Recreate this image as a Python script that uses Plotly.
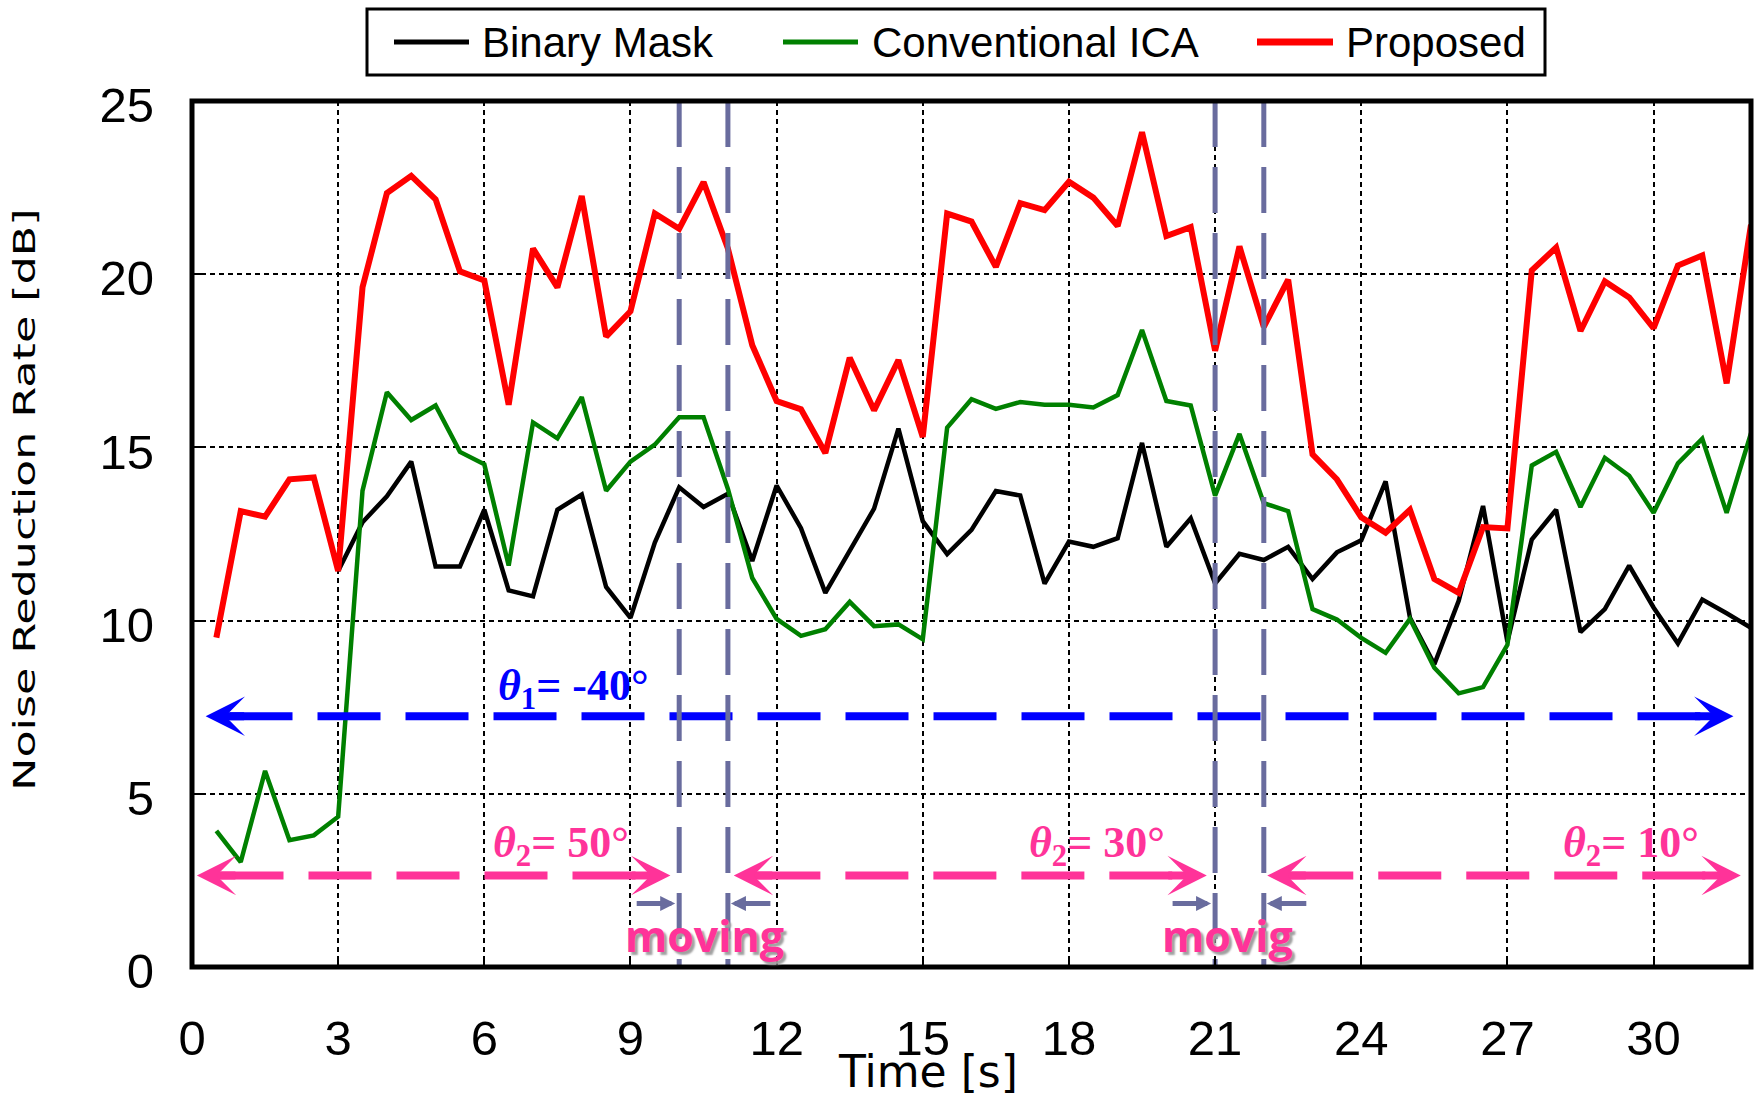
import plotly.graph_objects as go

# ---------------------------------------------------------------- data
time_s = [0.5, 1.0, 1.5, 2.0, 2.5, 3.0, 3.5, 4.0, 4.5, 5.0, 5.5, 6.0, 6.5, 7.0, 7.5, 8.0,
          8.5, 9.0, 9.5, 10.0, 10.5, 11.0, 11.5, 12.0, 12.5, 13.0, 13.5, 14.0, 14.5, 15.0, 15.5, 16.0,
          16.5, 17.0, 17.5, 18.0, 18.5, 19.0, 19.5, 20.0, 20.5, 21.0, 21.5, 22.0, 22.5, 23.0, 23.5, 24.0,
          24.5, 25.0, 25.5, 26.0, 26.5, 27.0, 27.5, 28.0, 28.5, 29.0, 29.5, 30.0, 30.5, 31.0, 31.5, 32.0]

proposed = [9.51, 13.16, 13.00, 14.08, 14.13, 11.43, 19.62, 22.34, 22.84, 22.16, 20.08, 19.82, 16.23, 20.74, 19.62, 22.26,
            18.20, 18.93, 21.75, 21.31, 22.66, 20.74, 17.95, 16.34, 16.10, 14.84, 17.59, 16.07, 17.52, 15.30, 21.75, 21.52,
            20.21, 22.05, 21.85, 22.67, 22.21, 21.39, 24.10, 21.10, 21.36, 17.79, 20.80, 18.48, 19.84, 14.80, 14.08, 12.98,
            12.54, 13.20, 11.20, 10.80, 12.70, 12.66, 20.11, 20.77, 18.36, 19.79, 19.33, 18.44, 20.25, 20.54, 16.85, 21.43]

conventional_ica = [3.93, 3.03, 5.66, 3.66, 3.80, 4.34, 13.75, 16.59, 15.79, 16.21, 14.87, 14.51, 11.59, 15.72, 15.26, 16.45,
                    13.75, 14.59, 15.08, 15.87, 15.87, 13.80, 11.23, 10.05, 9.56, 9.75, 10.54, 9.84, 9.89, 9.46, 15.57, 16.39,
                    16.11, 16.31, 16.23, 16.23, 16.15, 16.51, 18.39, 16.34, 16.21, 13.61, 15.39, 13.39, 13.16, 10.33, 10.03, 9.50,
                    9.07, 10.05, 8.64, 7.90, 8.08, 9.30, 14.48, 14.87, 13.28, 14.70, 14.18, 13.11, 14.54, 15.25, 13.11, 15.41]

# binary mask output starts at 3 s
binary_mask_time = time_s[5:]
binary_mask = [11.43, 12.84, 13.59, 14.59, 11.56, 11.56, 13.20, 10.87, 10.70, 13.20, 13.64,
               10.97, 10.08, 12.25, 13.85, 13.28, 13.66, 11.72, 13.90, 12.67, 10.80, 12.02, 13.23, 15.54, 12.87, 11.92, 12.62,
               13.74, 13.61, 11.07, 12.28, 12.13, 12.38, 15.13, 12.13, 12.95, 11.07, 11.93, 11.75, 12.13, 11.20, 11.97, 12.32,
               14.02, 10.08, 8.74, 10.57, 13.31, 9.39, 12.34, 13.20, 9.67, 10.33, 11.59, 10.38, 9.34, 10.61, 10.21, 9.79]

series_names = ["Binary Mask", "Conventional ICA", "Proposed"]
x_tick_vals = [0, 3, 6, 9, 12, 15, 18, 21, 24, 27, 30]
y_tick_vals = [0, 5, 10, 15, 20, 25]
x_title = "Time [s]"
y_title = "Noise Reduction Rate [dB]"

# source directions and the moving intervals
theta1_deg = -40
theta1_level = 7.24
theta1_tips = (0.28, 31.64)
theta1_body = (0.77, 30.96)

theta2_deg = [50, 30, 10]
theta2_level = 2.64
theta2_tips = [(0.10, 9.82), (11.12, 20.83), (22.07, 31.79)]
theta2_body = [(0.585, 9.115), (11.605, 20.12), (22.543, 31.08)]
theta2_label_x = [6.13, 17.14, 28.10]

moving_intervals = [(10, 11), (21, 22)]
moving_labels = ["moving", "movig"]
moving_label_x = [10.52, 21.25]
moving_arrow_level = 1.83

# ---------------------------------------------------------------- style
W, H = 1754, 1097
PLOT_L, PLOT_R, PLOT_T, PLOT_B = 192, 1751, 101, 967
X_MAX, Y_MAX = 32, 25

line_colors = ["#000000", "#008000", "#ff0000"]
line_widths = [4.5, 4.5, 6]
legend_widths = [5, 5, 7]
BLUE = "#0000ff"
PINK = "#ff3399"
SLATE = "#696c9e"
SANS = "Liberation Sans, Arial, sans-serif"
SERIF = "Liberation Serif, Times New Roman, serif"
WIDE = "DejaVu Sans, Verdana, sans-serif"


def paper_x(px):
    return (px - PLOT_L) / (PLOT_R - PLOT_L)


def paper_y(py):
    return (PLOT_B - py) / (PLOT_B - PLOT_T)


fig = go.Figure()

# measured curves
for name, xs, ys, col, wd in zip(series_names,
                                 [binary_mask_time, time_s, time_s],
                                 [binary_mask, conventional_ica, proposed],
                                 line_colors, line_widths):
    fig.add_trace(go.Scatter(x=xs, y=ys, mode="lines", name=name,
                             line=dict(color=col, width=wd), showlegend=False))

DASH = "63px,25px"

# dashed bodies of the direction arrows
fig.add_trace(go.Scatter(x=list(theta1_body), y=[theta1_level] * 2, mode="lines",
                         line=dict(color=BLUE, width=8, dash=DASH), showlegend=False,
                         hoverinfo="skip"))
for x0, x1 in theta2_body:
    fig.add_trace(go.Scatter(x=[x0, x1], y=[theta2_level] * 2, mode="lines",
                             line=dict(color=PINK, width=8, dash=DASH), showlegend=False,
                             hoverinfo="skip"))

# boundaries of the moving intervals
for a, b in moving_intervals:
    for xv in (a, b):
        fig.add_trace(go.Scatter(x=[xv, xv], y=[Y_MAX, 0], mode="lines",
                                 line=dict(color=SLATE, width=5, dash="46px,20px"),
                                 showlegend=False, hoverinfo="skip"))

annotations = []


def head(x, y, color, pointing_left):
    annotations.append(dict(x=x, y=y, xref="x", yref="y", text="", showarrow=True,
                            arrowhead=3, arrowwidth=8, arrowsize=0.82, arrowcolor=color,
                            ax=40 if pointing_left else -40, ay=0))


head(theta1_tips[0], theta1_level, BLUE, True)
head(theta1_tips[1], theta1_level, BLUE, False)
for lo, hi in theta2_tips:
    head(lo, theta2_level, PINK, True)
    head(hi, theta2_level, PINK, False)

# small arrows pointing at the interval edges
for a, b in moving_intervals:
    annotations.append(dict(x=a, y=moving_arrow_level, xref="x", yref="y", text="",
                            showarrow=True, arrowhead=2, arrowwidth=5, arrowsize=0.6,
                            arrowcolor=SLATE, ax=-44, ay=0, standoff=4))
    annotations.append(dict(x=b, y=moving_arrow_level, xref="x", yref="y", text="",
                            showarrow=True, arrowhead=2, arrowwidth=5, arrowsize=0.6,
                            arrowcolor=SLATE, ax=44, ay=0, standoff=3))

# direction labels
annotations.append(dict(x=6.25, y=8.05, xref="x", yref="y", xanchor="left", yanchor="middle",
                        text=f"<b><i>θ</i><sub>1</sub>= {theta1_deg}°</b>", showarrow=False,
                        font=dict(family=SERIF, size=44, color=BLUE)))
for deg, lx in zip(theta2_deg, theta2_label_x):
    annotations.append(dict(x=lx, y=3.52, xref="x", yref="y", xanchor="left", yanchor="middle",
                            text=f"<b><i>θ</i><sub>2</sub>= {deg}°</b>", showarrow=False,
                            font=dict(family=SERIF, size=44, color=PINK)))

for lab, lx in zip(moving_labels, moving_label_x):
    annotations.append(dict(x=lx, y=0.92, xref="x", yref="y", xanchor="center", yanchor="middle",
                            text=f"<b>{lab}</b>", showarrow=False,
                            font=dict(family="Open Sans, Arial, sans-serif", size=43, color=PINK,
                                      shadow="3px 3px 2px #a0a0a0")))

# axis titles
annotations.append(dict(x=paper_x(928), y=paper_y(1071), xref="paper", yref="paper",
                        xanchor="center", yanchor="middle", text=x_title, showarrow=False,
                        font=dict(family=WIDE, size=44, color="black")))
annotations.append(dict(x=paper_x(24), y=paper_y(500), xref="paper", yref="paper",
                        xanchor="center", yanchor="middle", text=y_title,
                        textangle=-90, showarrow=False,
                        font=dict(family=WIDE, size=40, color="black")))

# legend
shapes = []
legend_line_x = [(394, 469), (783, 858), (1257, 1333)]
legend_text_x = [480, 870, 1344]
LEG_Y = 42
shapes.append(dict(type="rect", xref="paper", yref="paper",
                   x0=paper_x(367), x1=paper_x(1545), y0=paper_y(75), y1=paper_y(9),
                   line=dict(color="black", width=3), fillcolor="white", layer="above"))
for name, col, lw, (x0, x1), tx in zip(series_names, line_colors, legend_widths,
                                       legend_line_x, legend_text_x):
    shapes.append(dict(type="line", xref="paper", yref="paper",
                       x0=paper_x(x0), x1=paper_x(x1), y0=paper_y(LEG_Y), y1=paper_y(LEG_Y),
                       line=dict(color=col, width=lw), layer="above"))
    annotations.append(dict(x=paper_x(tx), y=paper_y(LEG_Y + 1), xref="paper", yref="paper",
                            xanchor="left", yanchor="middle", text=name, showarrow=False,
                            font=dict(family=SANS, size=42, color="black")))

# plot frame
shapes.append(dict(type="rect", xref="paper", yref="paper", x0=0, x1=1, y0=0, y1=1,
                   line=dict(color="black", width=5), layer="above"))

fig.update_layout(
    width=W, height=H,
    margin=dict(l=PLOT_L, r=W - PLOT_R, t=PLOT_T, b=H - PLOT_B, pad=0),
    paper_bgcolor="white", plot_bgcolor="white",
    showlegend=False,
    shapes=shapes,
    annotations=annotations,
    xaxis=dict(range=[0, X_MAX], tickvals=x_tick_vals, showgrid=True, gridcolor="black",
               gridwidth=2, griddash="5px,4px", zeroline=False, showline=False,
               ticks="inside", ticklen=10, tickwidth=2, tickcolor="black",
               ticklabelstandoff=38,
               tickfont=dict(family=SANS, size=49, color="black")),
    yaxis=dict(range=[0, Y_MAX], tickvals=y_tick_vals, showgrid=True, gridcolor="black",
               gridwidth=2, griddash="5px,4px", zeroline=False, showline=False,
               ticks="inside", ticklen=10, tickwidth=2, tickcolor="black",
               ticklabelstandoff=37, ticklabelshift=4,
               tickfont=dict(family=SANS, size=49, color="black")),
)

# The vertical axis title is set in a tall, narrow face: stretch it along its
# length and thin it across, keeping it centred where it was placed.
stretch_title = """
var gd = document.getElementById('{plot_id}');
gd.querySelectorAll('text.annotation-text').forEach(function (t) {
  if (t.textContent === '%s') {
    var b = t.getBBox();
    var cx = b.x + b.width / 2, cy = b.y + b.height / 2;
    t.setAttribute('transform', 'translate(' + cx + ',' + cy + ') scale(1.11,0.76) translate(' + (-cx) + ',' + (-cy) + ')');
  }
});
""" % y_title

fig.write_html("out.html", post_script=stretch_title)
